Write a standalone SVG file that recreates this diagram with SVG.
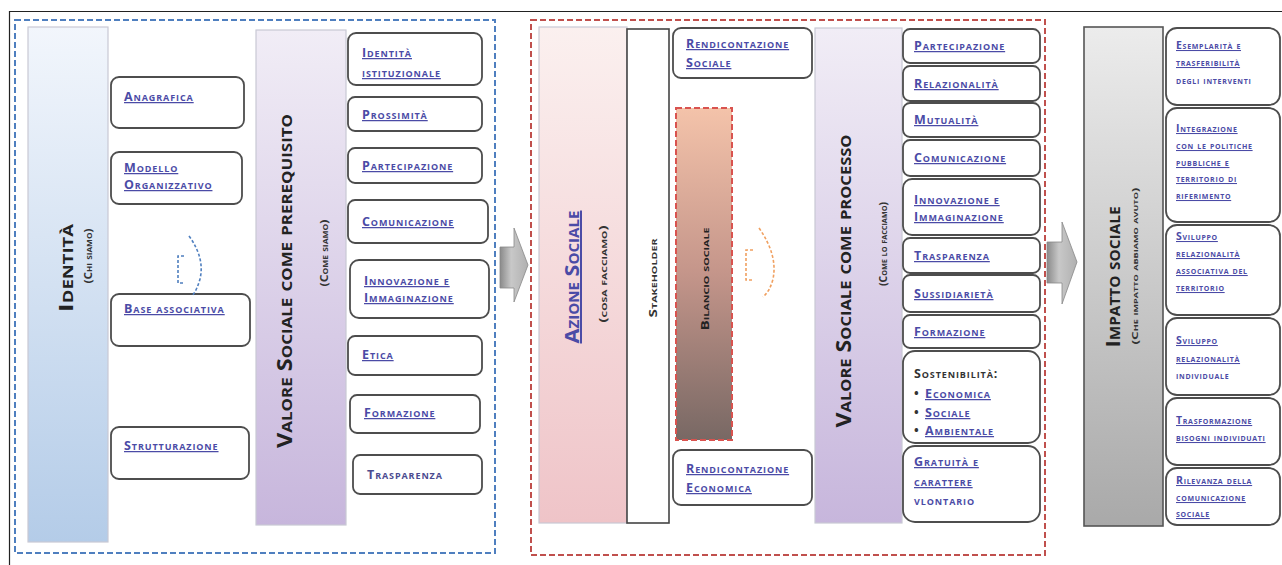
<svg xmlns="http://www.w3.org/2000/svg" width="1282" height="565" viewBox="0 0 1282 565">
<defs>
<linearGradient id="gBlue" x1="0" y1="0" x2="0" y2="1"><stop offset="0" stop-color="#f2f6fc"/><stop offset="1" stop-color="#b4cce8"/></linearGradient>
<linearGradient id="gPurple" x1="0" y1="0" x2="0" y2="1"><stop offset="0" stop-color="#f1edf6"/><stop offset="1" stop-color="#c7b6dc"/></linearGradient>
<linearGradient id="gPink" x1="0" y1="0" x2="0" y2="1"><stop offset="0" stop-color="#fbf0ef"/><stop offset="1" stop-color="#efc4c8"/></linearGradient>
<linearGradient id="gBrown" x1="0" y1="0" x2="0" y2="1"><stop offset="0" stop-color="#f4c3aa"/><stop offset="0.5" stop-color="#c4958a"/><stop offset="1" stop-color="#786864"/></linearGradient>
<linearGradient id="gGray" x1="0" y1="0" x2="0" y2="1"><stop offset="0" stop-color="#ececec"/><stop offset="1" stop-color="#a9a9a9"/></linearGradient>
<linearGradient id="gArrow" x1="0" y1="0" x2="1" y2="0"><stop offset="0" stop-color="#8a8a8a"/><stop offset="0.4" stop-color="#c8c8c8"/><stop offset="1" stop-color="#b0b0b0"/></linearGradient>
</defs>
<style>
.frame{fill:none;stroke:#222;stroke-width:1.2}
.bbox{fill:none;stroke:#4f7fbf;stroke-width:2;stroke-dasharray:6 3}
.rbox{fill:none;stroke:#c0504d;stroke-width:2;stroke-dasharray:6 3}
.bar{stroke:#c9c9d4;stroke-width:1.2}
.box{fill:#fff;stroke:#4d4d4d;stroke-width:1.8}
.lbl{font-family:"Open Sans","Liberation Sans",sans-serif;font-size:12.5px;font-weight:bold;font-variant:small-caps;letter-spacing:0.9px;fill:#4b4ba6;text-decoration:underline}
.sm{font-size:10.5px;letter-spacing:0.7px}
.nu{text-decoration:none}
.blk{fill:#333;text-decoration:none}
.ttl{font-family:"Open Sans","Liberation Sans",sans-serif;font-size:20px;font-weight:bold;font-variant:small-caps;fill:#222;text-anchor:middle}
.sub{font-family:"Open Sans","Liberation Sans",sans-serif;font-size:10px;font-weight:bold;font-variant:small-caps;fill:#333;text-anchor:middle}
.arrow{fill:url(#gArrow);stroke:#888;stroke-width:0.8}
.icoB{fill:none;stroke:#4f7fbf;stroke-width:1.6;stroke-dasharray:3 2}
.icoO{fill:none;stroke:#f0a060;stroke-width:1.6;stroke-dasharray:3 2}
</style>
<rect width="1282" height="565" fill="#fff"/>
<path class="frame" d="M9.5,565 L9.5,11.5 L1282,11.5"/>

<!-- Section containers -->
<rect class="bbox" x="15" y="20" width="480" height="533"/>
<rect class="rbox" x="531" y="20" width="514" height="535"/>

<!-- Identità -->
<g id="identita">
<rect class="bar" x="28" y="27" width="80" height="515" fill="url(#gBlue)"/>
<text class="ttl" transform="translate(73,268) rotate(-90)" textLength="88" lengthAdjust="spacingAndGlyphs">Identità</text>
<text class="sub" transform="translate(92,256) rotate(-90)" textLength="55" lengthAdjust="spacingAndGlyphs">(Chi siamo)</text>
</g>
<g id="anagrafica"><rect class="box" x="111" y="77" width="133" height="51" rx="8"/><text class="lbl" x="124" y="101">Anagrafica</text></g>
<g id="modello"><rect class="box" x="111" y="152" width="131" height="52" rx="8"/><text class="lbl" x="124" y="172">Modello</text><text class="lbl" x="124" y="189">Organizzativo</text></g>
<g id="base"><rect class="box" x="111" y="294" width="139" height="52" rx="8"/><text class="lbl" x="124" y="313">Base associativa</text></g>
<g id="strutturazione"><rect class="box" x="111" y="427" width="138" height="52" rx="8"/><text class="lbl" x="124" y="450">Strutturazione</text></g>
<g id="iconBlue">
<path class="icoB" d="M184,256 L178,256 L178,283 L184,283"/>
<path class="icoB" d="M189,236 Q205,258 200,279 Q197,290 192,296"/>
</g>

<!-- Valore sociale come prerequisito -->
<g id="prerequisito">
<rect class="bar" x="256" y="30" width="90" height="495" fill="url(#gPurple)"/>
<text class="ttl" transform="translate(292,281) rotate(-90)" style="font-size:21px" textLength="334" lengthAdjust="spacingAndGlyphs">Valore Sociale come prerequisito</text>
<text class="sub" transform="translate(328,253) rotate(-90)" textLength="67" lengthAdjust="spacingAndGlyphs">(Come siamo)</text>
</g>
<g id="identita-ist"><rect class="box" x="348" y="33" width="134" height="52" rx="8"/><text class="lbl" x="362" y="57">Identità</text><text class="lbl" x="362" y="77">istituzionale</text></g>
<g id="prossimita"><rect class="box" x="348" y="97" width="134" height="34" rx="7"/><text class="lbl" x="362" y="119">Prossimità</text></g>
<g id="partecipazione1"><rect class="box" x="348" y="148" width="134" height="35" rx="7"/><text class="lbl" x="362" y="170">Partecipazione</text></g>
<g id="comunicazione1"><rect class="box" x="348" y="200" width="140" height="43" rx="7"/><text class="lbl" x="362" y="226">Comunicazione</text></g>
<g id="innovazione1"><rect class="box" x="350" y="260" width="139" height="58" rx="9"/><text class="lbl" x="364" y="285">Innovazione e</text><text class="lbl" x="364" y="302">Immaginazione</text></g>
<g id="etica"><rect class="box" x="348" y="336" width="134" height="39" rx="7"/><text class="lbl" x="362" y="359">Etica</text></g>
<g id="formazione1"><rect class="box" x="350" y="395" width="130" height="38" rx="7"/><text class="lbl" x="364" y="417">Formazione</text></g>
<g id="trasparenza1"><rect class="box" x="353" y="455" width="129" height="39" rx="7"/><text class="lbl nu" x="367" y="479" style="fill:#4b4b90">Trasparenza</text></g>

<!-- Azione sociale -->
<g id="azione">
<rect class="bar" x="539" y="27" width="88" height="496" fill="url(#gPink)"/>
<text class="ttl" transform="translate(579,277) rotate(-90)" style="fill:#4b4ba6;text-decoration:underline" textLength="133" lengthAdjust="spacingAndGlyphs">Azione Sociale</text>
<text class="sub" transform="translate(607,274) rotate(-90)" textLength="97" lengthAdjust="spacingAndGlyphs">(cosa facciamo)</text>
</g>
<g id="stakeholder">
<rect x="627" y="29" width="42" height="494" fill="#fff" stroke="#444" stroke-width="1.6"/>
<text class="sub" transform="translate(657,278) rotate(-90)" textLength="79" lengthAdjust="spacingAndGlyphs">Stakeholder</text>
</g>
<g id="rend-sociale"><rect class="box" x="673" y="28" width="139" height="50" rx="8"/><text class="lbl" x="686" y="48">Rendicontazione</text><text class="lbl" x="686" y="67">Sociale</text></g>
<g id="bilancio">
<rect x="676" y="108" width="56" height="332" fill="url(#gBrown)" stroke="#d9534f" stroke-width="2" stroke-dasharray="6 3"/>
<text class="sub" transform="translate(709,279) rotate(-90)" style="fill:#222" textLength="103" lengthAdjust="spacingAndGlyphs">Bilancio sociale</text>
</g>
<g id="iconOrange">
<path class="icoO" d="M753,250 L746,250 L746,280 L753,280"/>
<path class="icoO" d="M759,228 Q778,255 773,279 Q770,291 763,297"/>
</g>
<g id="rend-economica"><rect class="box" x="673" y="450" width="139" height="55" rx="8"/><text class="lbl" x="686" y="473">Rendicontazione</text><text class="lbl" x="686" y="492">Economica</text></g>

<!-- Valore sociale come processo -->
<g id="processo">
<rect class="bar" x="815" y="28" width="87" height="495" fill="url(#gPurple)"/>
<text class="ttl" transform="translate(851,281) rotate(-90)" style="font-size:21px" textLength="293" lengthAdjust="spacingAndGlyphs">Valore Sociale come processo</text>
<text class="sub" transform="translate(887,244) rotate(-90)" textLength="84" lengthAdjust="spacingAndGlyphs">(Come lo facciamo)</text>
</g>
<g id="partecipazione2"><rect class="box" x="903" y="29" width="137" height="34" rx="7"/><text class="lbl" x="914" y="50">Partecipazione</text></g>
<g id="relazionalita"><rect class="box" x="903" y="66" width="137" height="35" rx="7"/><text class="lbl" x="914" y="88">Relazionalità</text></g>
<g id="mutualita"><rect class="box" x="903" y="103" width="137" height="34" rx="7"/><text class="lbl" x="914" y="124">Mutualità</text></g>
<g id="comunicazione2"><rect class="box" x="903" y="140" width="137" height="36" rx="7"/><text class="lbl" x="914" y="162">Comunicazione</text></g>
<g id="innovazione2"><rect class="box" x="903" y="179" width="137" height="56" rx="9"/><text class="lbl" x="914" y="204">Innovazione e</text><text class="lbl" x="914" y="221">Immaginazione</text></g>
<g id="trasparenza2"><rect class="box" x="903" y="238" width="137" height="35" rx="7"/><text class="lbl" x="914" y="260">Trasparenza</text></g>
<g id="sussidiarieta"><rect class="box" x="903" y="275" width="137" height="37" rx="7"/><text class="lbl" x="914" y="298">Sussidiarietà</text></g>
<g id="formazione2"><rect class="box" x="903" y="315" width="137" height="33" rx="7"/><text class="lbl" x="914" y="336">Formazione</text></g>
<g id="sostenibilita"><rect class="box" x="903" y="351" width="137" height="92" rx="12"/>
<text class="lbl blk" x="914" y="378">Sostenibilità:</text>
<text class="lbl blk" x="914" y="398">•</text><text class="lbl" x="925" y="398">Economica</text>
<text class="lbl blk" x="914" y="417">•</text><text class="lbl" x="925" y="417">Sociale</text>
<text class="lbl blk" x="914" y="435">•</text><text class="lbl" x="925" y="435">Ambientale</text>
</g>
<g id="gratuita"><rect class="box" x="903" y="446" width="137" height="76" rx="12"/><text class="lbl" x="914" y="466">Gratuità e</text><text class="lbl" x="914" y="486">carattere</text><text class="lbl nu" x="914" y="505">vlontario</text></g>

<!-- Impatto sociale -->
<g id="impatto">
<rect x="1084" y="27" width="79" height="499" fill="url(#gGray)" stroke="#555" stroke-width="1.6"/>
<text class="ttl" transform="translate(1120,277) rotate(-90)" textLength="141" lengthAdjust="spacingAndGlyphs">Impatto sociale</text>
<text class="sub" transform="translate(1138,266) rotate(-90)" style="font-size:9px" textLength="157" lengthAdjust="spacingAndGlyphs">(Che impatto abbiamo avuto)</text>
</g>
<g id="esemplarita"><rect class="box" x="1166" y="28" width="114" height="77" rx="11"/><text class="lbl sm" x="1176" y="49">Esemplarità e</text><text class="lbl sm" x="1176" y="66">trasferibilità</text><text class="lbl sm nu" x="1176" y="84">degli interventi</text></g>
<g id="integrazione"><rect class="box" x="1166" y="108" width="114" height="114" rx="11"/><text class="lbl sm" x="1176" y="132">Integrazione</text><text class="lbl sm" x="1176" y="149">con le politiche</text><text class="lbl sm" x="1176" y="166">pubbliche e</text><text class="lbl sm" x="1176" y="182">territorio di</text><text class="lbl sm" x="1176" y="199">riferimento</text></g>
<g id="sviluppo-assoc"><rect class="box" x="1166" y="225" width="114" height="90" rx="11"/><text class="lbl sm" x="1176" y="240">Sviluppo</text><text class="lbl sm" x="1176" y="257">relazionalità</text><text class="lbl sm" x="1176" y="274">associativa del</text><text class="lbl sm" x="1176" y="291">territorio</text></g>
<g id="sviluppo-indiv"><rect class="box" x="1166" y="318" width="114" height="77" rx="11"/><text class="lbl sm" x="1176" y="344">Sviluppo</text><text class="lbl sm" x="1176" y="362">relazionalità</text><text class="lbl sm nu" x="1176" y="379">individuale</text></g>
<g id="trasformazione"><rect class="box" x="1166" y="398" width="114" height="67" rx="11"/><text class="lbl sm" x="1176" y="424">Trasformazione</text><text class="lbl sm" x="1176" y="441">bisogni individuati</text></g>
<g id="rilevanza"><rect class="box" x="1166" y="468" width="114" height="57" rx="11"/><text class="lbl sm" x="1176" y="484">Rilevanza della</text><text class="lbl sm" x="1176" y="501">comunicazione</text><text class="lbl sm" x="1176" y="517">sociale</text></g>

<!-- Connectors -->
<g id="connectors">
<path class="arrow" d="M500,247 L514,247 L514,228 L528,265 L514,302 L514,288 L500,288 Z"/>
<path class="arrow" d="M1047,242 L1062,242 L1062,222 L1077,262 L1062,304 L1062,283 L1047,283 Z"/>
</g>
</svg>
